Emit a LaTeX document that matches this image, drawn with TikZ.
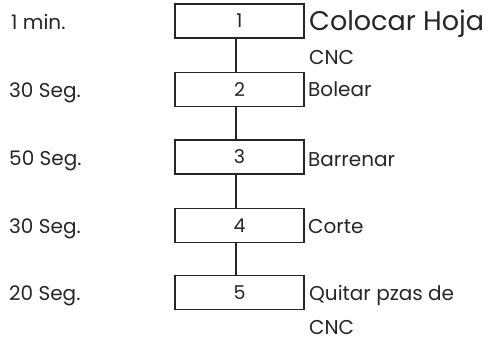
\documentclass[tikz,border=0pt]{standalone}
\usepackage{fontspec}
\setmainfont{Poppins}
\begin{document}
\begin{tikzpicture}[x=1pt,y=-1pt,
  stepbox/.style={draw=black!85,line width=1.2pt,minimum width=129pt,minimum height=34pt,inner sep=0pt,text=black!85,font=\fontsize{19}{22}\selectfont},
  timelbl/.style={anchor=base west,inner sep=0pt,font=\fontsize{20}{24}\selectfont,text=black!85},
  desclbl/.style={anchor=base west,inner sep=0pt,font=\fontsize{20}{24}\selectfont,text=black!85},
  biglbl/.style={anchor=base west,inner sep=0pt,font=\fontsize{27}{32}\selectfont,text=black!85},
  link/.style={draw=black!85,line width=1.1pt}]
\useasboundingbox (0,0) rectangle (491,344);
\node[stepbox] (b1) at (239.5,21) {1};
\node[stepbox] (b2) at (239.5,89.5) {2};
\node[stepbox] (b3) at (239.5,157) {3};
\node[stepbox] (b4) at (239.5,225.5) {4};
\node[stepbox] (b5) at (239.5,292.5) {5};
\foreach \a/\b in {b1/b2,b2/b3,b3/b4,b4/b5}
  \draw[link] ([xshift=-3.5pt]\a.south) -- ([xshift=-3.5pt]\b.north);
\node[timelbl] (t1) at (11,30) {1 min.};
\node[timelbl] (t2) at (9,98) {30 Seg.};
\node[timelbl] (t3) at (9,166) {50 Seg.};
\node[timelbl] (t4) at (9,234) {30 Seg.};
\node[timelbl] (t5) at (9,301) {20 Seg.};
\node[biglbl] (d1) at (309,31) {Colocar Hoja};
\node[desclbl] (d1b) at (309,65) {CNC};
\node[desclbl] (d2) at (308,97) {Bolear};
\node[desclbl] (d3) at (308,167) {Barrenar};
\node[desclbl] (d4) at (308,234) {Corte};
\node[desclbl] (d5) at (309,301) {Quitar pzas de};
\node[desclbl] (d5b) at (309,335) {CNC};
\end{tikzpicture}
\end{document}
